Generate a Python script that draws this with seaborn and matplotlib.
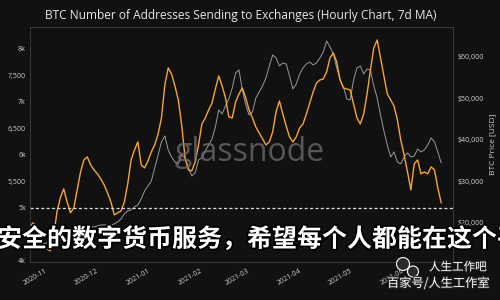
import numpy as np
import pandas as pd
import matplotlib
matplotlib.use("Agg")
import matplotlib.pyplot as plt
import matplotlib.ticker as mticker
import matplotlib.patheffects as pe
from matplotlib.patches import Ellipse
import seaborn as sns

TITLE = "BTC Number of Addresses Sending to Exchanges (Hourly Chart, 7d MA)"
START_DATE = "2020-10-23"
STEP = "2D"

addresses = [
    4660, 4717, 4640, 4472, 4321, 4226, 4189, 4453, 4925, 5189,
    5358, 5113, 4906, 5000, 5340, 5679, 5906, 5962, 5811, 5717,
    5642, 5547, 5434, 5283, 5113, 4868, 4906, 4943, 5113, 5453,
    5906, 6094, 6245, 5811, 5755, 5887, 6057, 6189, 6396, 6698,
    7321, 7642, 7528, 7302, 7038, 6566, 5943, 5717, 5698, 5868,
    6189, 6585, 6698, 6849, 6981, 7245, 7491, 7302, 7076, 6717,
    6698, 7000, 7151, 7264, 7076, 6849, 6698, 6528, 6415, 6302,
    6189, 6245, 6434, 6811, 7019, 6774, 6547, 6340, 6245, 6340,
    6510, 6585, 6774, 6981, 7189, 7359, 7415, 7434, 7566, 7830,
    7925, 7755, 7415, 7264, 7245, 7226, 6962, 6698, 6585, 6774,
    7151, 7604, 8019, 8170, 7830, 7491, 7151, 7038, 6925, 6660,
    6283, 6000, 5679, 5340, 5830, 5906, 5642, 5679, 5642, 5774,
    5717, 5377, 5094,
]

price = [
    14457, 14457, 14698, 14698, 14939, 15180, 15421, 15662, 15903, 15903,
    16144, 16385, 16867, 17590, 18072, 18313, 18795, 18795, 19036, 19036,
    19277, 19518, 19518, 19518, 19518, 19759, 20241, 20964, 22169, 22892,
    23133, 23856, 24338, 25784, 27712, 28917, 30122, 33255, 36388, 39521,
    40967, 37593, 35906, 34701, 34219, 36388, 35665, 33255, 31327, 32050,
    35183, 35665, 37352, 38798, 40244, 43136, 47233, 46269, 48197, 49884,
    52535, 56150, 56873, 52053, 48438, 46028, 46751, 50125, 51571, 53017,
    54945, 57837, 60488, 59765, 57837, 58560, 58319, 55427, 52294, 53499,
    55909, 57355, 58319, 58801, 58078, 58560, 59765, 61211, 63862, 62416,
    60729, 57355, 54463, 52776, 49884, 49643, 54463, 57355, 57837, 55909,
    57114, 56873, 53017, 50125, 46028, 42172, 38798, 35906, 37111, 34701,
    34219, 35906, 36870, 35906, 36147, 37834, 37111, 37593, 38798, 40485,
    39521, 37111, 34460,
]

left_ticks = [4000, 4500, 5000, 5500, 6000, 6500, 7000, 7500, 8000]
left_labels = ["4k", "4,500", "5k", "5,500", "6k", "6,500", "7k", "7,500", "8k"]
right_ticks = [20000, 30000, 40000, 50000, 60000]
right_labels = ["$20,000", "$30,000", "$40,000", "$50,000", "$60,000"]
month_ticks = ["2020-11-01", "2020-12-01", "2021-01-01", "2021-02-01",
               "2021-03-01", "2021-04-01", "2021-05-01", "2021-06-01"]
month_labels = ["2020-11", "2020-12", "2021-01", "2021-02",
                "2021-03", "2021-04", "2021-05", "2021-06"]
x_range = ["2020-10-23", "2021-07-01"]
left_range = [3980, 8415]
right_range = [10600, 67230]
threshold = 5000
right_axis_label = "BTC Price [USD]"
watermark = "glassnode"
overlay_text = "安全的数字货币服务，希望每个人都能在这个平台"
credit_1 = "人生工作吧"
credit_2 = "百家号/人生工作室"

BG = "#111111"
ORANGE = "#f7a531"
GREY = "#b0b0b0"
TXT = "#cfcfcf"

sns.set_theme(style="dark")
plt.rcParams["font.family"] = ["Open Sans", "Noto Sans CJK SC", "DejaVu Sans"]

dates = pd.date_range(START_DATE, periods=len(addresses), freq=STEP)
df = pd.DataFrame({"date": dates, "addresses": addresses, "price": price})

fig = plt.figure(figsize=(5, 3), dpi=100, facecolor=BG)
ax = fig.add_axes([0.06, 0.127, 0.846, 0.783])
ax2 = ax.twinx()
ax.set_zorder(ax2.get_zorder() + 1)
ax.patch.set_visible(False)
ax2.set_facecolor(BG)

sns.lineplot(data=df, x="date", y="price", ax=ax2, color=GREY, linewidth=0.7, alpha=0.85)
sns.lineplot(data=df, x="date", y="addresses", ax=ax, color=ORANGE, linewidth=1.0)
ax.axhline(threshold, color="#d8d8d8", linestyle=(0, (2.5, 1.8)), linewidth=0.9)

xr = pd.to_datetime(x_range)
ax.set_xlim(xr[0], xr[1])
ax.set_ylim(*left_range)
ax2.set_ylim(*right_range)

ax.set_yticks(left_ticks)
ax.set_yticklabels(left_labels)
ax2.set_yticks(right_ticks)
ax2.set_yticklabels(right_labels)
ax.set_xticks(pd.to_datetime(month_ticks))
ax.set_xticklabels(month_labels, rotation=30, ha="right", rotation_mode="anchor")

for a in (ax, ax2):
    a.tick_params(axis="both", length=0, labelsize=5, labelcolor=TXT, pad=3)
    a.grid(False)
    a.set_xlabel("")
    a.set_ylabel("")
    for s in a.spines.values():
        s.set_color("#3a3a3a")
        s.set_linewidth(0.6)
ax.tick_params(axis="x", pad=4)
ax2.set_ylabel(right_axis_label, color=TXT, fontsize=6, labelpad=4)

fig.text(0.482, 0.948, TITLE, ha="center", va="center", color="#e6e6e6", fontsize=8.6)

fig.text(0.5, 0.493, watermark, ha="center", va="center", color="#6e6e6e",
         fontsize=23, alpha=0.75, zorder=1)

fig.text(-0.006, 0.203, overlay_text, ha="left", va="center", color="white",
         fontsize=18, fontweight="bold", family=["Noto Sans CJK SC", "DejaVu Sans"],
         path_effects=[pe.withStroke(linewidth=2.5, foreground="black")], zorder=20)

stroke = [pe.withStroke(linewidth=1.5, foreground="#222222")]
fig.add_artist(Ellipse((0.806, 0.12), 0.026, 0.043, transform=fig.transFigure,
                       facecolor="#2a2a2a", edgecolor="white", linewidth=0.8, zorder=21))
fig.add_artist(Ellipse((0.826, 0.095), 0.022, 0.037, transform=fig.transFigure,
                       facecolor="#2a2a2a", edgecolor="white", linewidth=0.8, zorder=22))
fig.text(0.858, 0.11, credit_1, ha="left", va="center", color="white", fontsize=8.3,
         family=["Noto Sans CJK SC", "DejaVu Sans"], path_effects=stroke, zorder=23)
fig.text(0.774, 0.055, credit_2, ha="left", va="center", color="white", fontsize=8.8,
         family=["Noto Sans CJK SC", "DejaVu Sans"], path_effects=stroke, zorder=23)

fig.savefig("out.png", dpi=100, facecolor=BG)
